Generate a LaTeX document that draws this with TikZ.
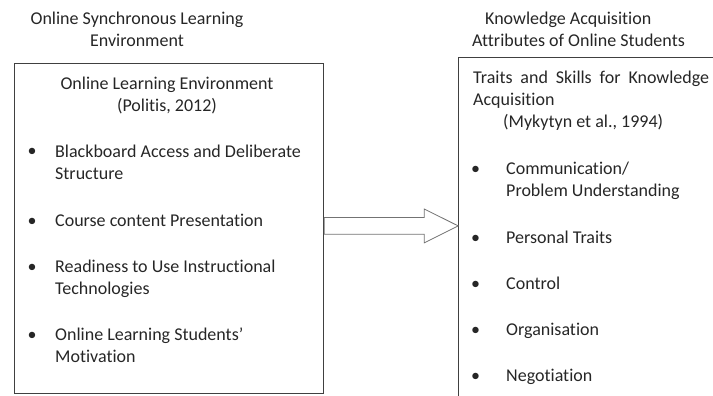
\documentclass[tikz,border=0pt]{standalone}
\usepackage{fontspec}
\setmainfont{Carlito}[Ligatures={TeX,NoCommon}]
\usetikzlibrary{shapes.arrows, positioning}
\tikzstyle{frame}=[draw=black!75, line width=0.8pt, inner sep=0pt, anchor=north west]
\tikzstyle{heading}=[align=center, anchor=base, inner sep=0pt]
\tikzstyle{item}=[align=left, anchor=base west, inner sep=0pt]
\tikzstyle{dot}=[anchor=base, inner sep=0pt]
\tikzstyle{bigarrow}=[single arrow, draw=black!55, fill=white, line width=0.8pt, inner sep=0pt,
  text height=8pt, text depth=8pt, minimum height=134pt,
  single arrow head extend=8.5pt, single arrow tip angle=53]

\begin{document}
\begin{tikzpicture}[x=1pt, y=-1pt, font=\fontsize{18pt}{22pt}\selectfont, text=black!85]
    \useasboundingbox (0,0) rectangle (713,396);
    \clip (0,0) rectangle (713,396);

    % titles over the two boxes (nodes sit on the baseline of their last line)
    \node[heading] (ttlL) at (137,47) {Online Synchronous Learning\\Environment};
    \node[item] (ttlR) at (472,47) {\hspace*{13pt}Knowledge Acquisition\\Attributes of Online Students};

    % boxes (the right one runs off the page)
    \node[frame, minimum width=309pt, minimum height=330pt] (lbox) at (14,63) {};
    \node[frame, minimum width=258pt, minimum height=343pt] (rbox) at (458,57) {};

    \node[bigarrow, anchor=tail] (arr) at ([yshift=2.5pt]lbox.east) {};

    % left box
    \node[heading] (hdL) at (167,111) {Online Learning Environment\\(Politis, 2012)};
    \node[item] (l1) at (55,179) {Blackboard Access and Deliberate\\Structure};
    \node[item] (l2) at (55,226) {Course content Presentation};
    \node[item] (l3) at (55,294) {Readiness to Use Instructional\\Technologies};
    \node[item] (l4) at (55,362) {Online Learning Students'\\Motivation};
    \node[dot] (d1) at ([xshift=-23pt, yshift=22pt]l1.base west) {\textbullet};
    \node[dot] (d2) at ([xshift=-23pt]l2.base west) {\textbullet};
    \node[dot] (d3) at ([xshift=-23pt, yshift=22pt]l3.base west) {\textbullet};
    \node[dot] (d4) at ([xshift=-23pt, yshift=22pt]l4.base west) {\textbullet};

    % right box
    \node[item] (hdR) at (473,128) {\makebox[236pt][s]{Traits and Skills for Knowledge}\\Acquisition\\\hspace*{30pt}(Mykytyn et al., 1994)};
    \node[item] (r1) at (506,196) {Communication/\\Problem Understanding};
    \node[item] (r2) at (506,243) {Personal Traits};
    \node[item] (r3) at (506,289) {Control};
    \node[item] (r4) at (506,335) {Organisation};
    \node[item] (r5) at (506,381) {Negotiation};
    \node[dot] (e1) at ([xshift=-30.5pt, yshift=22pt]r1.base west) {\textbullet};
    \node[dot] (e2) at ([xshift=-30.5pt]r2.base west) {\textbullet};
    \node[dot] (e3) at ([xshift=-30.5pt]r3.base west) {\textbullet};
    \node[dot] (e4) at ([xshift=-30.5pt]r4.base west) {\textbullet};
    \node[dot] (e5) at ([xshift=-30.5pt]r5.base west) {\textbullet};
\end{tikzpicture}
\end{document}
